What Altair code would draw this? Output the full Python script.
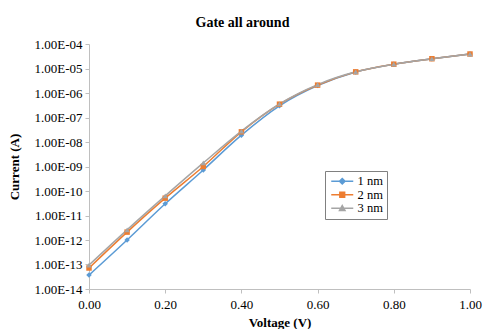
import altair as alt
import pandas as pd

voltage = [0.0, 0.1, 0.2, 0.3, 0.4, 0.5, 0.6, 0.7, 0.8, 0.9, 1.0]
i_1nm = [3.7e-14, 1.0e-12, 3.0e-11, 7.2e-10, 1.9e-8, 3.0e-7, 2.0e-6, 7.2e-6, 1.5e-5, 2.5e-5, 3.9e-5]
i_2nm = [7.2e-14, 2.1e-12, 5.1e-11, 1.0e-9, 2.6e-8, 3.5e-7, 2.1e-6, 7.3e-6, 1.5e-5, 2.5e-5, 3.9e-5]
i_3nm = [9.5e-14, 2.6e-12, 6.3e-11, 1.4e-9, 2.8e-8, 3.6e-7, 2.2e-6, 7.3e-6, 1.5e-5, 2.5e-5, 3.9e-5]
series = ["1 nm", "2 nm", "3 nm"]
colors = ["#5B9BD5", "#ED7D31", "#A5A5A5"]
shapes = ["diamond", "square", "triangle-up"]
legend_shapes = [
    "M-2.2,0H2.2M0,-0.55L0.55,0L0,0.55L-0.55,0Z",
    "M-2.2,0H2.2M-0.48,-0.48H0.48V0.48H-0.48Z",
    "M-2.2,0H2.2M0,-0.55L0.55,0.45H-0.55Z",
]
y_ticks = [1e-14, 1e-13, 1e-12, 1e-11, 1e-10, 1e-9, 1e-8, 1e-7, 1e-6, 1e-5, 1e-4]
x_ticks = [0.0, 0.2, 0.4, 0.6, 0.8, 1.0]

rows = []
for name, vals in zip(series, [i_1nm, i_2nm, i_3nm]):
    for v, i in zip(voltage, vals):
        rows.append({"Voltage": v, "Current": i, "Series": name, "Legend": name})
df = pd.DataFrame(rows)

font = "Liberation Serif"

x_enc = alt.X("Voltage:Q", scale=alt.Scale(domain=[0, 1], nice=False),
              axis=alt.Axis(values=x_ticks, format=".2f", title="Voltage (V)",
                            grid=False, labelFlush=False))
y_enc = alt.Y("Current:Q",
              scale=alt.Scale(type="log", domain=[1e-14, 1e-4], nice=False),
              axis=alt.Axis(values=y_ticks, title="Current (A)", grid=False, labelFlush=False,
                            titleX=-68,
                            labelExpr="'1.00E-' + (round(-log(datum.value)/LN10) < 10 ? '0' : '') + round(-log(datum.value)/LN10)"))
color_enc = alt.Color("Series:N", scale=alt.Scale(domain=series, range=colors), legend=None)
shape_enc = alt.Shape("Series:N", scale=alt.Scale(domain=series, range=shapes), legend=None)

leg = alt.Legend(title=None, orient="none", legendX=236, legendY=127,
                 strokeColor="#808080", padding=4, fillColor="white", labelFont=font,
                 labelFontSize=12.5, symbolSize=100, symbolStrokeWidth=1.5,
                 symbolOpacity=1, rowPadding=0.5, symbolOffset=7, labelOffset=9,
                 labelColor="#000")

lines = alt.Chart(df).mark_line(interpolate="monotone", strokeWidth=1.5).encode(
    x=x_enc, y=y_enc, color=color_enc, detail="Series:N")
points = alt.Chart(df).mark_point(filled=True, size=30, opacity=1).encode(
    x=x_enc, y=y_enc, color=color_enc, shape=shape_enc)
legend_layer = alt.Chart(df).mark_point(filled=True, opacity=0).encode(
    x=x_enc, y=y_enc,
    fill=alt.Fill("Legend:N", scale=alt.Scale(domain=series, range=colors), legend=leg),
    stroke=alt.Stroke("Legend:N", scale=alt.Scale(domain=series, range=colors), legend=leg),
    shape=alt.Shape("Legend:N", scale=alt.Scale(domain=series, range=legend_shapes), legend=leg),
)

chart = alt.layer(lines, points, legend_layer).resolve_scale(
    shape="independent", fill="independent", stroke="independent"
).resolve_legend(shape="independent", fill="independent", stroke="independent").properties(
    width=381, height=245,
    title=alt.TitleParams("Gate all around", font=font, fontSize=14, fontWeight="bold",
                          color="#000", dx=-37, offset=8),
    autosize=alt.AutoSizeParams(type="none"),
    padding={"left": 81, "top": 36, "right": 20, "bottom": 40},
).configure_axis(
    labelFont=font, labelFontSize=13, labelColor="#000",
    titleFont=font, titleFontSize=13, titleFontWeight="bold", titleColor="#000",
    domainColor="#BFBFBF", tickColor="#BFBFBF", tickSize=4,
).configure_axisY(titlePadding=5, labelPadding=3).configure_axisX(titlePadding=5, labelPadding=5).configure_view(stroke=None)

chart.save("out.html", embed_options={"renderer": "svg", "actions": False})
